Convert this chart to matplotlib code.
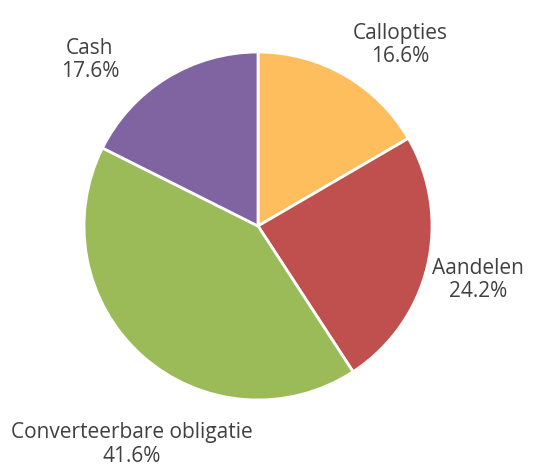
import matplotlib.pyplot as plt

labels = ['Callopties', 'Aandelen', 'Converteerbare obligatie', 'Cash']
shares = [16.6, 24.2, 41.6, 17.6]
colours = ['#FFBE5E', '#C0504D', '#9BBB59', '#8064A2']

# label positions in units of the pie radius
label_pos = [(0.816, 1.040), (1.264, -0.310), (-0.724, -1.255), (-0.966, 0.954)]

fig = plt.figure(figsize=(5.41, 4.68), dpi=100)
r_px = 174
cx, cy = 258, 468 - 226
ax = fig.add_axes([(cx - r_px) / 541, (cy - r_px) / 468, 2 * r_px / 541, 2 * r_px / 468])

wedges, _ = ax.pie(
    shares,
    colors=colours,
    startangle=90,
    counterclock=False,
    radius=1,
    wedgeprops=dict(edgecolor='white', linewidth=2),
)
ax.set_xlim(-1, 1)
ax.set_ylim(-1, 1)
ax.set_aspect('equal')
ax.axis('off')

for name, share, (x, y) in zip(labels, shares, label_pos):
    ax.text(x, y, f'{name}\n{share:.1f}%', ha='center', va='center',
            fontsize=15, color='#404040', family='Open Sans',
            linespacing=1.15, clip_on=False)

fig.savefig('out.png', dpi=100)
